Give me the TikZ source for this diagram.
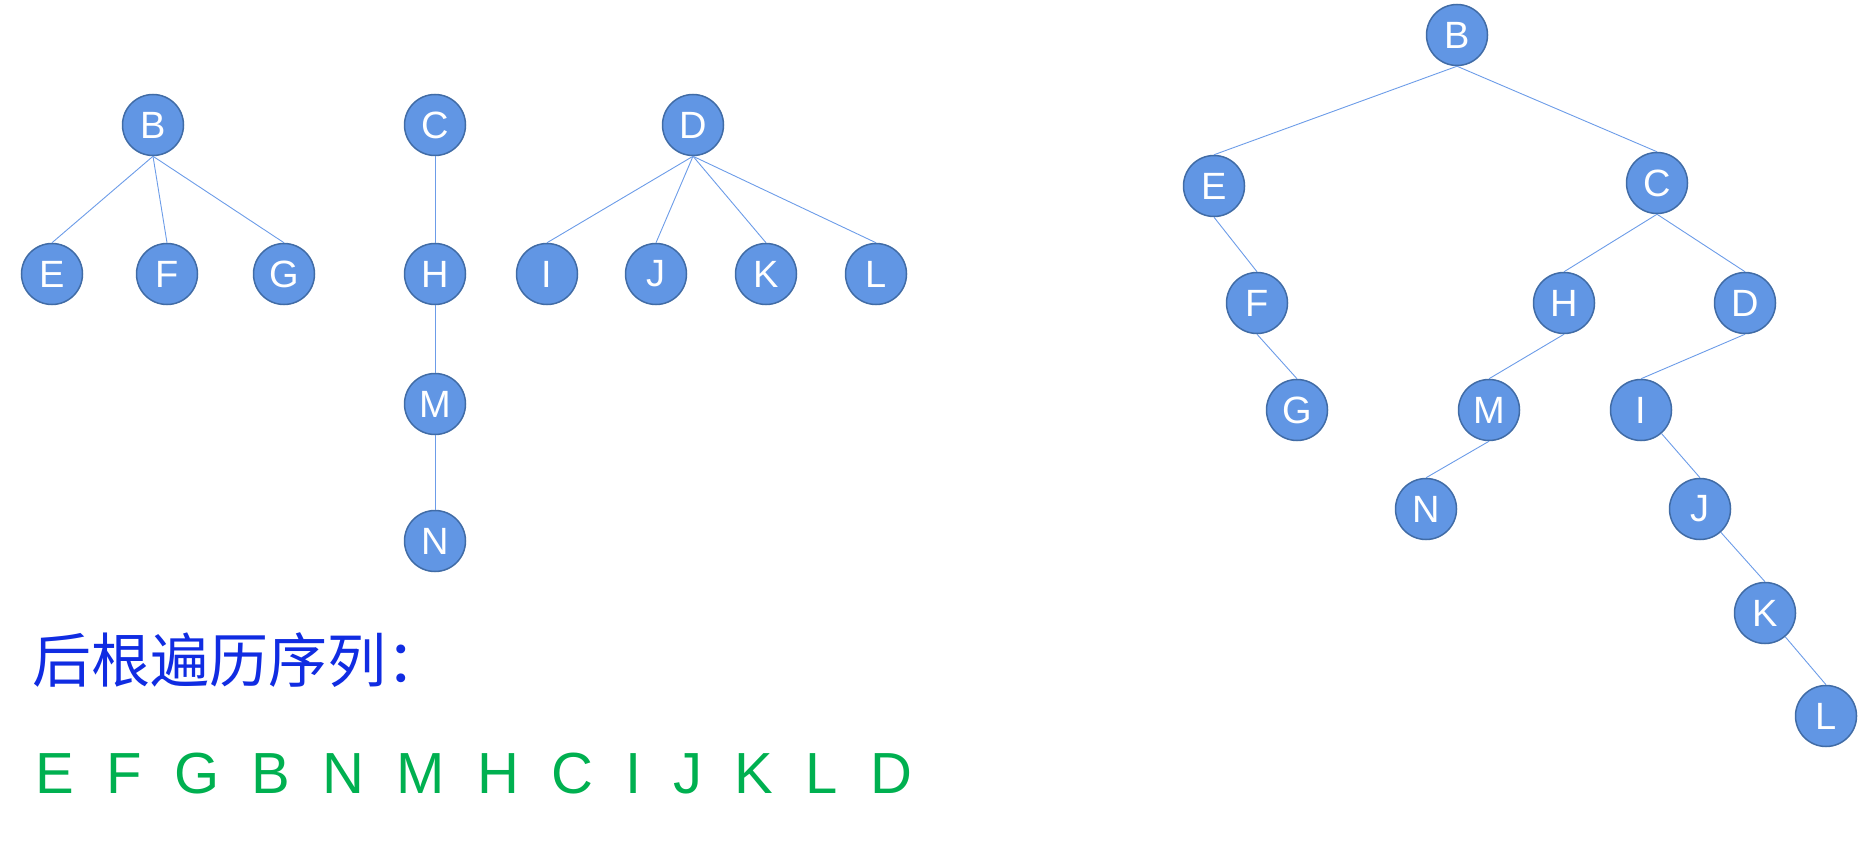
\documentclass[tikz,border=0pt]{standalone}
\usepackage{fontspec}
\setmainfont{Liberation Sans}
\newfontfamily\cjkfont{Noto Sans CJK SC}
\definecolor{nodefill}{RGB}{97,150,228}
\definecolor{nodeline}{RGB}{65,108,166}
\definecolor{edgeblue}{RGB}{108,156,232}
\definecolor{titleblue}{RGB}{16,44,226}
\definecolor{seqgreen}{RGB}{0,176,80}
\tikzset{
  treenode/.style={circle, draw=nodeline, line width=1.5pt, fill=nodefill, text=white,
    minimum size=61pt, inner sep=0pt, font=\fontsize{38}{38}\selectfont},
  treeedge/.style={draw=edgeblue, line width=0.9pt}
}
\begin{document}
\begin{tikzpicture}[x=1pt,y=1pt,yscale=-1,xscale=1]
\useasboundingbox (0,0) rectangle (1860,842);

%Forest: tree B
\node[treenode] (fB) at (153,125) {B};
\node[treenode] (fE) at (52,274) {E};
\node[treenode] (fF) at (167,274) {F};
\node[treenode] (fG) at (284,274) {G};
%Forest: tree C
\node[treenode] (fC) at (435,125) {C};
\node[treenode] (fH) at (435,274) {H};
\node[treenode] (fM) at (435,404) {M};
\node[treenode] (fN) at (435,541) {N};
%Forest: tree D
\node[treenode] (fD) at (693,125) {D};
\node[treenode] (fI) at (547,274) {I};
\node[treenode] (fJ) at (656,274) {J};
\node[treenode] (fK) at (766,274) {K};
\node[treenode] (fL) at (876,274) {L};

%Straight Lines
\foreach \c in {fE,fF,fG} \draw[treeedge] (fB.south) -- (\c.north);
\draw[treeedge] (fC.south) -- (fH.north);
\draw[treeedge] (fH.south) -- (fM.north);
\draw[treeedge] (fM.south) -- (fN.north);
\foreach \c in {fI,fJ,fK,fL} \draw[treeedge] (fD.south) -- (\c.north);

%Binary tree
\node[treenode] (bB) at (1457,35) {B};
\node[treenode] (bE) at (1214,186) {E};
\node[treenode] (bC) at (1657,183) {C};
\node[treenode] (bF) at (1257,303) {F};
\node[treenode] (bH) at (1564,303) {H};
\node[treenode] (bD) at (1745,303) {D};
\node[treenode] (bG) at (1297,410) {G};
\node[treenode] (bM) at (1489,410) {M};
\node[treenode] (bI) at (1641,410) {I};
\node[treenode] (bN) at (1426,509) {N};
\node[treenode] (bJ) at (1700,509) {J};
\node[treenode] (bK) at (1765,613) {K};
\node[treenode] (bL) at (1826,716) {L};

%Straight Lines
\foreach \p/\c in {bB/bE,bB/bC,bE/bF,bF/bG,bC/bH,bC/bD,bH/bM,bM/bN,bD/bI}
  \draw[treeedge] (\p.south) -- (\c.north);
\foreach \p/\c in {bI/bJ,bJ/bK,bK/bL}
  \draw[treeedge] (\p) -- (\c.north);

%Text
\node[anchor=base west, inner sep=0pt, text=titleblue, font=\cjkfont\fontsize{59}{59}\selectfont]
  (title) at (32,682) {后根遍历序列：};
\node[anchor=base west, inner sep=0pt, text=seqgreen, font=\fontsize{58}{58}\selectfont]
  (seq) at (35.4,793) {E\ \ F\ \ G\ \ B\ \ N\ \ M\ \ H\ \ C\ \ I\ \ J\ \ K\ \ L\ \ D};
\end{tikzpicture}
\end{document}
